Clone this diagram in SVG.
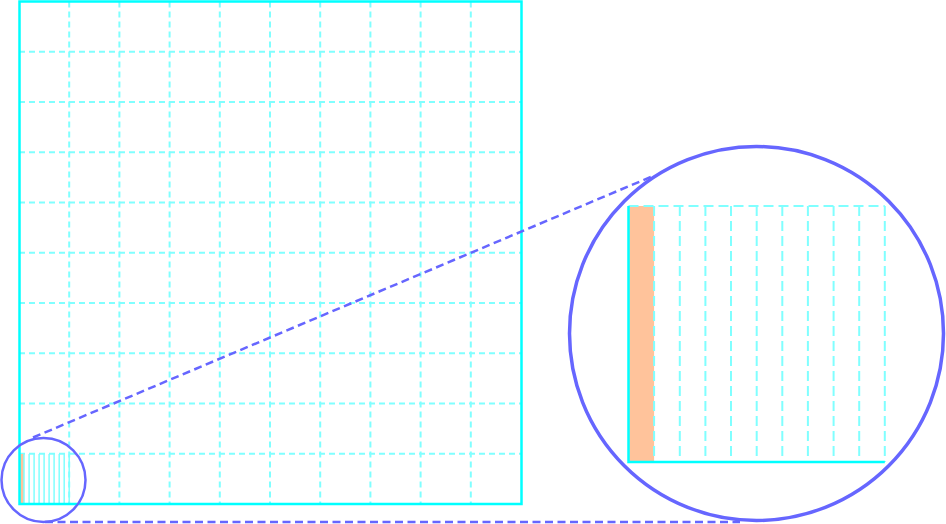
<svg xmlns="http://www.w3.org/2000/svg" width="946" height="524" viewBox="0 0 946 524">
  <style>
    .grid { stroke: #80ffff; stroke-width: 2; stroke-dasharray: 6 4; fill: none; }
    .fine { stroke: #80ffff; stroke-width: 1.5; fill: none; }
    .igrid { stroke: #80ffff; stroke-width: 2; stroke-dasharray: 10 5; fill: none; }
    .edge { stroke: #00ffff; stroke-width: 2.5; fill: none; }
    .ring { stroke: #6666ff; fill: none; }
    .conn { stroke: #6666ff; stroke-width: 2.5; stroke-dasharray: 8 4.5; fill: none; }
    .hl { fill: #ffc39b; }
  </style>
  <rect width="946" height="524" fill="#ffffff"/>

  <g id="main-grid">
    <g class="grid">
      <line x1="69.2" y1="1.5" x2="69.2" y2="504"/>
      <line x1="119.4" y1="1.5" x2="119.4" y2="504"/>
      <line x1="169.6" y1="1.5" x2="169.6" y2="504"/>
      <line x1="219.8" y1="1.5" x2="219.8" y2="504"/>
      <line x1="270" y1="1.5" x2="270" y2="504"/>
      <line x1="320.2" y1="1.5" x2="320.2" y2="504"/>
      <line x1="370.4" y1="1.5" x2="370.4" y2="504"/>
      <line x1="420.6" y1="1.5" x2="420.6" y2="504"/>
      <line x1="470.8" y1="1.5" x2="470.8" y2="504"/>
      <line x1="19" y1="51.75" x2="521" y2="51.75"/>
      <line x1="19" y1="102" x2="521" y2="102"/>
      <line x1="19" y1="152.25" x2="521" y2="152.25"/>
      <line x1="19" y1="202.5" x2="521" y2="202.5"/>
      <line x1="19" y1="252.75" x2="521" y2="252.75"/>
      <line x1="19" y1="303" x2="521" y2="303"/>
      <line x1="19" y1="353.25" x2="521" y2="353.25"/>
      <line x1="19" y1="403.5" x2="521" y2="403.5"/>
      <line x1="19" y1="453.75" x2="521" y2="453.75"/>
    </g>
  </g>

  <g id="zoom-region">
    <rect class="hl" x="19" y="454" width="5" height="50"/>
    <g class="fine">
      <line x1="24" y1="454" x2="24" y2="504"/>
      <line x1="29.1" y1="454" x2="29.1" y2="504"/>
      <line x1="34.1" y1="454" x2="34.1" y2="504"/>
      <line x1="39.1" y1="454" x2="39.1" y2="504"/>
      <line x1="44.1" y1="454" x2="44.1" y2="504"/>
      <line x1="49.1" y1="454" x2="49.1" y2="504"/>
      <line x1="54.1" y1="454" x2="54.1" y2="504"/>
      <line x1="59.2" y1="454" x2="59.2" y2="504"/>
      <line x1="64.2" y1="454" x2="64.2" y2="504"/>
      <line x1="69.2" y1="454" x2="69.2" y2="504"/>
    </g>
  </g>

  <g id="main-border">
    <rect class="edge" x="19.5" y="1.5" width="502" height="502.5"/>
  </g>

  <g id="inset">
    <rect class="hl" x="628.5" y="206" width="25.6" height="256"/>
    <g class="igrid">
      <line x1="654.1" y1="206" x2="654.1" y2="462"/>
      <line x1="679.8" y1="206" x2="679.8" y2="462"/>
      <line x1="705.4" y1="206" x2="705.4" y2="462"/>
      <line x1="731" y1="206" x2="731" y2="462"/>
      <line x1="756.7" y1="206" x2="756.7" y2="462"/>
      <line x1="782.3" y1="206" x2="782.3" y2="462"/>
      <line x1="807.9" y1="206" x2="807.9" y2="462"/>
      <line x1="833.6" y1="206" x2="833.6" y2="462"/>
      <line x1="859.2" y1="206" x2="859.2" y2="462"/>
      <line x1="884.8" y1="206" x2="884.8" y2="462"/>
      <line x1="628.5" y1="206" x2="884.8" y2="206"/>
    </g>
    <polyline class="edge" points="628.5,206 628.5,462 884.8,462"/>
  </g>

  <g id="connectors">
    <line class="conn" x1="33" y1="437.5" x2="653" y2="176"/>
    <line class="conn" x1="45" y1="522" x2="740" y2="522"/>
  </g>

  <g id="lens-small">
    <circle class="ring" cx="43.5" cy="480" r="42" stroke-width="2.5"/>
  </g>

  <g id="lens-large">
    <circle class="ring" cx="756.5" cy="333.5" r="187" stroke-width="3.5"/>
  </g>
</svg>
